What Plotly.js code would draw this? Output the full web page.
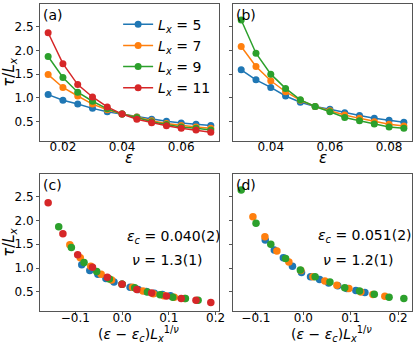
<!DOCTYPE html>
<html>
<head>
<meta charset="utf-8">
<script src="https://cdn.plot.ly/plotly-3.0.1.min.js"></script>
<style>
  html, body { margin: 0; padding: 0; background: #fff; }
  #plot { width: 416px; height: 347px; }
</style>
</head>
<body>
<div id="plot"></div>
<script>
// panel (a) and (b): epsilon on x, tau/Lx on y
const epsA = [0.015, 0.02, 0.025, 0.03, 0.035, 0.04, 0.045, 0.05, 0.055, 0.06, 0.065, 0.07]
const epsB = [0.03, 0.035, 0.04, 0.045, 0.05, 0.055, 0.06, 0.065, 0.07, 0.075, 0.08, 0.085]

const tauA5  = [1.07, 0.95, 0.87, 0.78, 0.71, 0.66, 0.60, 0.55, 0.51, 0.47, 0.445, 0.42]
const tauA7  = [1.49, 1.22, 1.04, 0.87, 0.75, 0.66, 0.60, 0.52, 0.46, 0.42, 0.39, 0.36]
const tauA9  = [1.87, 1.43, 1.12, 0.93, 0.77, 0.66, 0.59, 0.50, 0.44, 0.39, 0.36, 0.325]
const tauA11 = [2.37, 1.72, 1.28, 1.02, 0.81, 0.66, 0.55, 0.48, 0.415, 0.36, 0.325, 0.28]

const tauB5 = [1.59, 1.38, 1.22, 1.04, 0.91, 0.82, 0.76, 0.69, 0.63, 0.57, 0.53, 0.49]
const tauB7 = [2.08, 1.66, 1.36, 1.13, 0.95, 0.82, 0.73, 0.64, 0.57, 0.50, 0.445, 0.41]
const tauB9 = [2.64, 1.94, 1.50, 1.20, 0.96, 0.82, 0.71, 0.59, 0.52, 0.45, 0.39, 0.36]

// panel (c) and (d): scaled x, (eps - eps_c) Lx^(1/nu)
const xc5  = [-0.0862, -0.0690, -0.0517, -0.0345, -0.0172, 0, 0.0172, 0.0345, 0.0517, 0.0690, 0.0862, 0.1035]
const xc7  = [-0.1117, -0.0894, -0.0670, -0.0447, -0.0223, 0, 0.0223, 0.0447, 0.0670, 0.0894, 0.1117, 0.1340]
const xc9  = [-0.1355, -0.1084, -0.0813, -0.0542, -0.0271, 0, 0.0271, 0.0542, 0.0813, 0.1084, 0.1355, 0.1626]
const xc11 = [-0.1581, -0.1265, -0.0949, -0.0633, -0.0316, 0, 0.0316, 0.0633, 0.0949, 0.1265, 0.1581, 0.1898]

const xd5 = [-0.0803, -0.0612, -0.0421, -0.0229, -0.0038, 0.0153, 0.0344, 0.0535, 0.0727, 0.0918, 0.1109, 0.1300]
const xd7 = [-0.1063, -0.0810, -0.0557, -0.0304, -0.0051, 0.0202, 0.0455, 0.0709, 0.0962, 0.1215, 0.1468, 0.1721]
const xd9 = [-0.1310, -0.0998, -0.0686, -0.0374, -0.0062, 0.0250, 0.0562, 0.0874, 0.1186, 0.1498, 0.1810, 0.2122]

const sizes = ['5', '7', '9', '11']
const colors = ['#1f77b4', '#ff7f0e', '#2ca02c', '#d62728']

const lx = (n) => `<i>L</i><sub><i>x</i></sub> = ${n}`

let data = []

const lineTrace = (x, y, i, xa, ya, legend) => ({
  x: x, y: y, xaxis: xa, yaxis: ya,
  type: 'scatter', mode: 'lines+markers',
  name: lx(sizes[i]), showlegend: legend,
  line: {color: colors[i], width: 1.5},
  marker: {color: colors[i], size: 7}
})

const dotTrace = (x, y, i, xa, ya) => ({
  x: x, y: y, xaxis: xa, yaxis: ya,
  type: 'scatter', mode: 'markers', showlegend: false,
  marker: {color: colors[i], size: 7.5}
})

const tauA = [tauA5, tauA7, tauA9, tauA11]
const tauB = [tauB5, tauB7, tauB9]
const xc = [xc5, xc7, xc9, xc11]
const xd = [xd5, xd7, xd9]

tauA.forEach((t, i) => data.push(lineTrace(epsA, t, i, 'x', 'y', true)))
tauB.forEach((t, i) => data.push(lineTrace(epsB, t, i, 'x2', 'y2', false)))
xc.forEach((x, i) => data.push(dotTrace(x, tauA[i], i, 'x3', 'y3')))
xd.forEach((x, i) => data.push(dotTrace(x, tauB[i], i, 'x4', 'y4')))

// empty traces so the tick-label axes (x5..x8) get a subplot
const labelAxes = [['x5', 'y'], ['x6', 'y2'], ['x7', 'y3'], ['x8', 'y4']]
labelAxes.forEach((p) => data.push({
  x: [], y: [], xaxis: p[0], yaxis: p[1], type: 'scatter', mode: 'markers',
  showlegend: false, hoverinfo: 'skip'
}))

const font = {family: 'DejaVu Sans', size: 12, color: '#000'}
const frame = {
  showline: true, mirror: true, linecolor: '#555', linewidth: 1,
  showgrid: false, zeroline: false,
  ticks: 'outside', ticklen: 3, tickcolor: '#555',
  tickfont: font
}

const topRow = [0.5547, 1]
const bottomRow = [0, 0.4463]
const leftCol = [0, 0.481]
const rightCol = [0.519, 1]

const rangeA = [0.01225, 0.07275]
const rangeB = [0.02725, 0.08775]
const rangeC = [-0.1755, 0.2072]
const rangeD = [-0.1482, 0.2294]

const xAxis = (domain, anchor, range, dtick) => Object.assign({}, frame, {
  domain: domain, anchor: anchor, range: range, dtick: dtick, tick0: 0,
  showticklabels: false
})

// matplotlib puts the tick labels very close to the spine; a free axis
// a few px higher carries the labels
const labelAxis = (domain, over, range, dtick, fmt, pos) => ({
  domain: domain, overlaying: over, anchor: 'free', position: pos,
  range: range, dtick: dtick, tick0: 0, tickformat: fmt,
  showline: false, showgrid: false, zeroline: false, ticks: '',
  tickfont: font
})

const yRange = [0.1, 2.975]
const yAxis = (domain, anchor, labels) => Object.assign({}, frame, {
  domain: domain, anchor: anchor, range: yRange, dtick: 0.5, tick0: 0, tickformat: '.1f',
  showticklabels: labels
})

const tauTitle = {
  text: '<i>τ</i>/<i>L</i><sub><i>x</i></sub>',
  font: {family: 'DejaVu Sans', size: 15}, standoff: 4
}

const epsText = '<i>ε</i>'
const scaledText = '(<i>ε</i> − <i>ε</i><sub><i>c</i></sub>)<i>L</i><sub><i>x</i></sub><sup>1/<i>ν</i></sup>'

const xTitle = (txt, xr, x, y, size) => ({
  text: txt, xref: xr + ' domain', yref: 'paper',
  x: x, y: y, xanchor: 'center', yanchor: 'middle', showarrow: false,
  font: {family: 'DejaVu Sans', size: size, color: '#000'}
})

const panelLabel = (txt, xr, yr) => ({
  text: txt, xref: xr + ' domain', yref: yr + ' domain',
  x: 0.005, y: 0.995, xanchor: 'left', yanchor: 'top', showarrow: false,
  font: {family: 'DejaVu Sans', size: 14, color: '#000'}
})

const fitLabel = (txt, xr, yr, x, y) => ({
  text: txt, xref: xr + ' domain', yref: yr + ' domain',
  x: x, y: y, xanchor: 'center', yanchor: 'middle', showarrow: false,
  font: {family: 'DejaVu Sans', size: 14, color: '#000'}
})

const layout = {
  width: 416, height: 347,
  margin: {l: 40, r: 4, t: 4, b: 36},
  paper_bgcolor: '#fff', plot_bgcolor: '#fff',
  font: font,
  showlegend: true,
  legend: {
    x: 0.21, y: 0.985, xanchor: 'left', yanchor: 'top',
    bgcolor: 'rgba(0,0,0,0)', borderwidth: 0,
    font: {family: 'DejaVu Sans', size: 14, color: '#000'},
    tracegroupgap: 0
  },
  xaxis: xAxis(leftCol, 'y', rangeA, 0.02),
  xaxis2: xAxis(rightCol, 'y2', rangeB, 0.02),
  xaxis3: xAxis(leftCol, 'y3', rangeC, 0.1),
  xaxis4: xAxis(rightCol, 'y4', rangeD, 0.1),
  xaxis5: labelAxis(leftCol, 'x', rangeA, 0.02, '.2f', 0.5625),
  xaxis6: labelAxis(rightCol, 'x2', rangeB, 0.02, '.2f', 0.5625),
  xaxis7: labelAxis(leftCol, 'x3', rangeC, 0.1, '.1f', 0.005),
  xaxis8: labelAxis(rightCol, 'x4', rangeD, 0.1, '.1f', 0.005),
  yaxis: Object.assign(yAxis(topRow, 'x', true), {title: tauTitle}),
  yaxis2: yAxis(topRow, 'x2', false),
  yaxis3: Object.assign(yAxis(bottomRow, 'x3', true), {title: tauTitle}),
  yaxis4: yAxis(bottomRow, 'x4', false),
  annotations: [
    xTitle(epsText, 'x', 0.5, 0.497, 15),
    xTitle(epsText, 'x2', 0.5, 0.497, 15),
    xTitle(scaledText, 'x3', 0.55, -0.074, 14),
    xTitle(scaledText, 'x4', 0.55, -0.074, 14),
    panelLabel('(a)', 'x', 'y'),
    panelLabel('(b)', 'x2', 'y2'),
    panelLabel('(c)', 'x3', 'y3'),
    panelLabel('(d)', 'x4', 'y4'),
    fitLabel('<i>ε</i><sub><i>c</i></sub> = 0.040(2)', 'x3', 'y3', 0.75, 0.54),
    fitLabel('<i>ν</i> = 1.3(1)', 'x3', 'y3', 0.715, 0.372),
    fitLabel('<i>ε</i><sub><i>c</i></sub> = 0.051(2)', 'x4', 'y4', 0.735, 0.545),
    fitLabel('<i>ν</i> = 1.2(1)', 'x4', 'y4', 0.70, 0.37)
  ]
}

Plotly.newPlot('plot', data, layout, {displayModeBar: false, staticPlot: true})
</script>
</body>
</html>
